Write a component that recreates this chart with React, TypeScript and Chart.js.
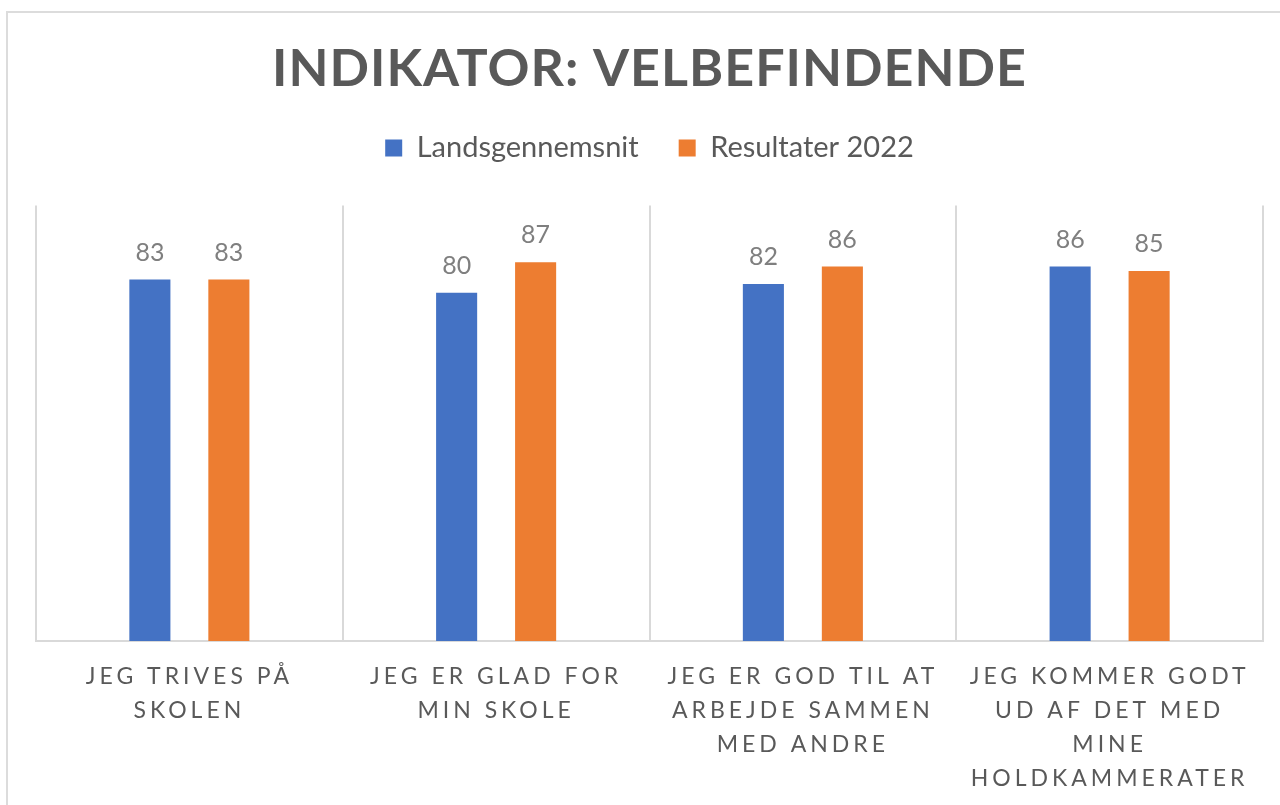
import React, { useEffect, useRef } from 'react';
import { Chart, registerables } from 'chart.js';

Chart.register(...registerables);

const TITLE = 'INDIKATOR: VELBEFINDENDE';
const categories: string[][] = [
  ['JEG TRIVES PÅ', 'SKOLEN'],
  ['JEG ER GLAD FOR', 'MIN SKOLE'],
  ['JEG ER GOD TIL AT', 'ARBEJDE SAMMEN', 'MED ANDRE'],
  ['JEG KOMMER GODT', 'UD AF DET MED', 'MINE', 'HOLDKAMMERATER'],
];
const seriesNames = ['Landsgennemsnit', 'Resultater 2022'];
const landsgennemsnit = [83, 80, 82, 86];
const resultater2022 = [83, 87, 86, 85];
const seriesColors = ['#4472C4', '#ED7D31'];
const yMin = 0;
const yMax = 100;

const FONT = 'Lato, "Open Sans", sans-serif';

const spacingPlugin = {
  id: 'letterSpacing',
  beforeLayout(chart: any) {
    const lg = chart.legend;
    if (lg && !lg.__patched) {
      const origFit = lg.fit.bind(lg);
      lg.fit = () => {
        origFit();
        lg.height += 33;
      };
      lg.__patched = true;
    }
  },
  beforeDraw(chart: any) {
    const ctx = chart.ctx;
    const xs = chart.scales.x;
    if (xs && !xs.__patched) {
      const orig = xs.drawLabels.bind(xs);
      xs.drawLabels = (area: any) => {
        ctx.save();
        ctx.letterSpacing = '4px';
        orig(area);
        ctx.restore();
      };
      xs.__patched = true;
    }
    const tb = chart.titleBlock;
    if (tb && !tb.__patched) {
      const origT = tb.draw.bind(tb);
      tb.draw = (...args: any[]) => {
        ctx.save();
        ctx.letterSpacing = '1px';
        origT(...args);
        ctx.restore();
      };
      tb.__patched = true;
    }
  },
};

const valueLabels = {
  id: 'valueLabels',
  afterDatasetsDraw(chart: any) {
    const ctx = chart.ctx;
    ctx.save();
    ctx.font = `25px ${FONT}`;
    ctx.fillStyle = '#7f7f7f';
    ctx.textAlign = 'center';
    ctx.textBaseline = 'alphabetic';
    chart.data.datasets.forEach((ds: any, i: number) => {
      chart.getDatasetMeta(i).data.forEach((bar: any, j: number) => {
        ctx.fillText(String(ds.data[j]), bar.x, bar.y - 19);
      });
    });
    ctx.restore();
  },
};

export default function App() {
  const ref = useRef<HTMLCanvasElement | null>(null);
  useEffect(() => {
    if (!ref.current) return;
    const chart = new Chart(ref.current, {
      type: 'bar',
      data: {
        labels: categories as any,
        datasets: [
          {
            label: seriesNames[0],
            data: landsgennemsnit,
            backgroundColor: seriesColors[0],
            barPercentage: 0.52,
            categoryPercentage: 0.515,
          },
          {
            label: seriesNames[1],
            data: resultater2022,
            backgroundColor: seriesColors[1],
            barPercentage: 0.52,
            categoryPercentage: 0.515,
          },
        ],
      },
      options: {
        responsive: false,
        animation: false,
        layout: { padding: { left: 36, right: 17, top: 0, bottom: -10 } },
        plugins: {
          title: {
            display: true,
            text: TITLE,
            color: '#595959',
            font: { family: FONT, size: 52, weight: 'bold', lineHeight: 0.8 },
            padding: { top: 48, bottom: 4 },
          },
          legend: {
            display: true,
            position: 'top',
            labels: {
              boxWidth: 17,
              boxHeight: 17,
              color: '#595959',
              font: { family: FONT, size: 29 },
              padding: 40,
            },
          },
          tooltip: { enabled: false },
        },
        scales: {
          x: {
            grid: { color: '#d9d9d9', lineWidth: 2, drawTicks: false, offset: true },
            border: { color: '#d9d9d9', width: 2 },
            ticks: {
              color: '#595959',
              font: { family: FONT, size: 23, lineHeight: 34 / 23 },
              padding: 19,
              maxRotation: 0,
              autoSkip: false,
            },
          },
          y: {
            display: false,
            min: yMin,
            max: yMax,
          },
        },
      },
      plugins: [spacingPlugin, valueLabels],
    });
    return () => chart.destroy();
  }, []);

  return (
    <div style={{ position: 'fixed', left: 0, top: 0, width: 1280, height: 805, overflow: 'hidden', background: '#fff' }}>
      <div
        style={{
          position: 'absolute',
          left: 6,
          top: 11,
          width: 1400,
          height: 900,
          border: '2px solid #dcdcdc',
          boxSizing: 'border-box',
        }}
      />
      <canvas ref={ref} width={1280} height={805} style={{ position: 'absolute', left: 0, top: 0 }} />
    </div>
  );
}
